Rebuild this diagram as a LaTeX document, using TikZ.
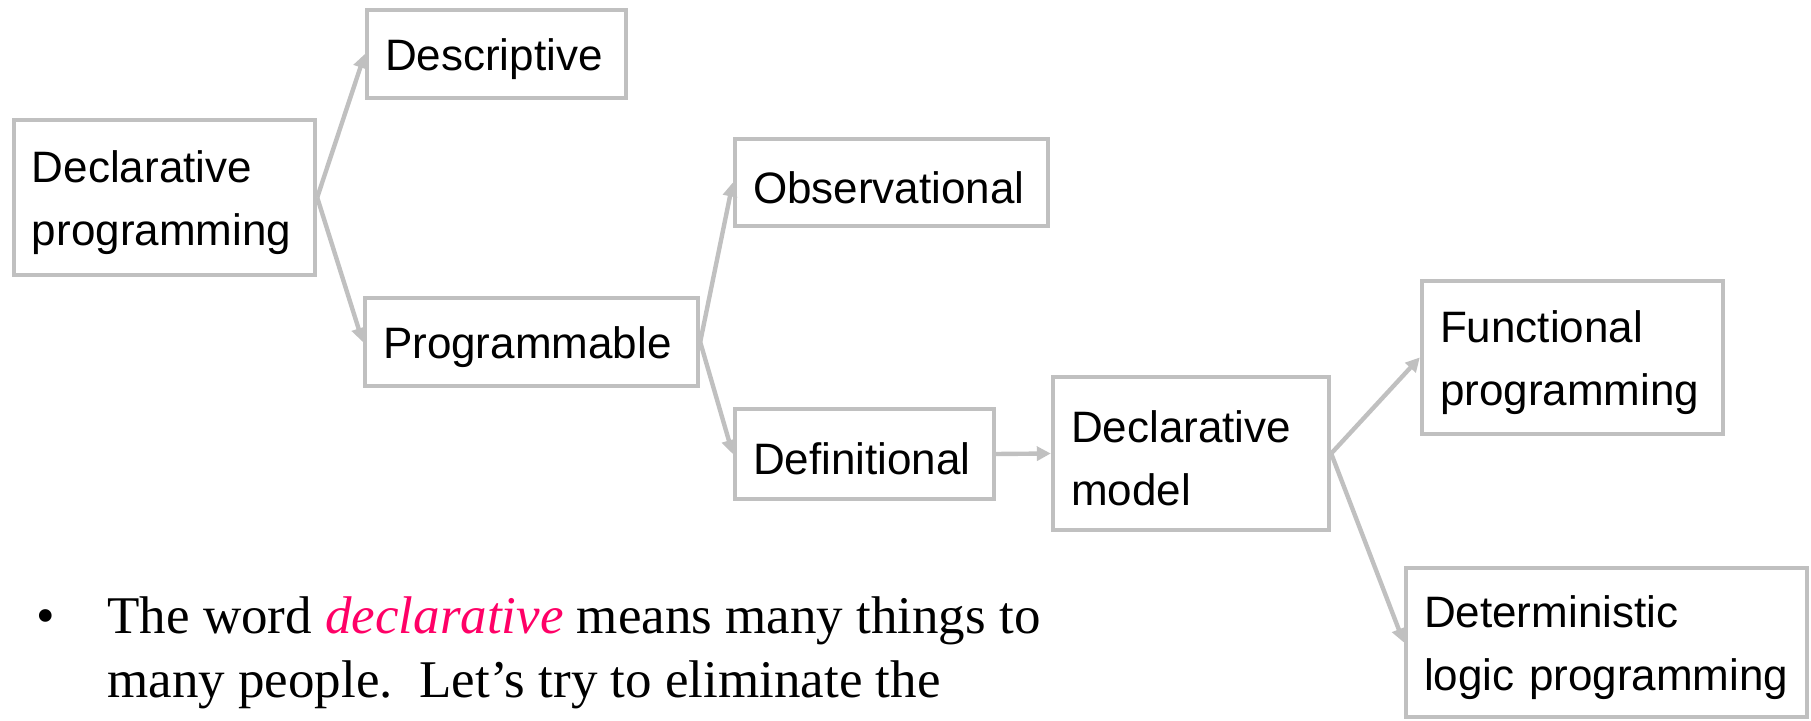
\documentclass[tikz,border=0pt]{standalone}
\usepackage{fontspec}
\setmainfont{Liberation Serif}
\newfontfamily\boxfont{Liberation Sans}
\usetikzlibrary{arrows.meta}
\hyphenpenalty=10000 % no broken words inside the boxes
\exhyphenpenalty=10000
\definecolor{boxgray}{RGB}{192,192,192}
\definecolor{declpink}{RGB}{255,0,102}
\tikzstyle{concept}=[draw=boxgray,line width=2.2pt,rectangle,inner xsep=9pt,inner ysep=0pt,align=left,font=\boxfont\fontsize{22}{31.5}\selectfont]
\tikzstyle{refine}=[draw=boxgray,line width=2.2pt,-{Triangle[length=7pt,width=7pt]}]
\newcommand{\conceptbox}[6]{% Syntax: {name}{left}{top}{right}{bottom}{text}, all in pixels
\pgfmathsetmacro{\boxw}{(#4-#2)*0.5}
\pgfmathsetmacro{\boxh}{(#5-#3)*0.5}
\pgfmathsetmacro{\boxtw}{\boxw-18} % text width inside the padding
\node[concept,minimum width=\boxw pt,minimum height=\boxh pt,text width=\boxtw pt] (#1) at ({(#2+#4)/2},{(#3+#5)/2}) {\rule{0pt}{21pt}#6};
}
\begin{document}
\begin{tikzpicture}[x=0.5pt,y=-0.5pt]
	\useasboundingbox (0,0) rectangle (1811,721);
	\conceptbox{declprog}{14}{120}{315}{275}{Declarative\\programming}
	\conceptbox{descriptive}{367}{10}{626}{98}{Descriptive}
	\conceptbox{programmable}{365}{298}{698}{386}{Programmable}
	\conceptbox{observational}{735}{139}{1048}{226}{Observational}
	\conceptbox{definitional}{735}{409}{994}{499}{Definitional}
	\conceptbox{declmodel}{1053}{377}{1329}{530}{Declarative\\model}
	\conceptbox{functional}{1422}{281}{1723}{434}{Functional\\programming}
	\conceptbox{logicprog}{1406}{568}{1807}{717}{Deterministic\\logic programming}
	%\draw[red] (0,0) grid[step=100] (1811,721); % use this to debug
	\draw[refine] (declprog.east) -- (descriptive.west);
	\draw[refine] (declprog.east) -- (programmable.west);
	\draw[refine] (programmable.east) -- (observational.west);
	\draw[refine] (programmable.east) -- (definitional.west);
	\draw[refine] (definitional.east) -- (declmodel.west);
	\draw[refine] (declmodel.east) -- (functional.west);
	\draw[refine] (declmodel.east) -- (logicprog.west);
	\node[anchor=base west,inner sep=0pt,font=\fontsize{26.5}{32}\selectfont] (bullet) at (36,633) {\textbullet};
	\node[anchor=north west,inner sep=0pt,align=left,font=\fontsize{26.5}{32}\selectfont] (remark) at (107,596)
	{The word \textcolor{declpink}{\textit{declarative}} means many things to\\many people.\ \ Let’s try to eliminate the};
\end{tikzpicture}
\end{document}
